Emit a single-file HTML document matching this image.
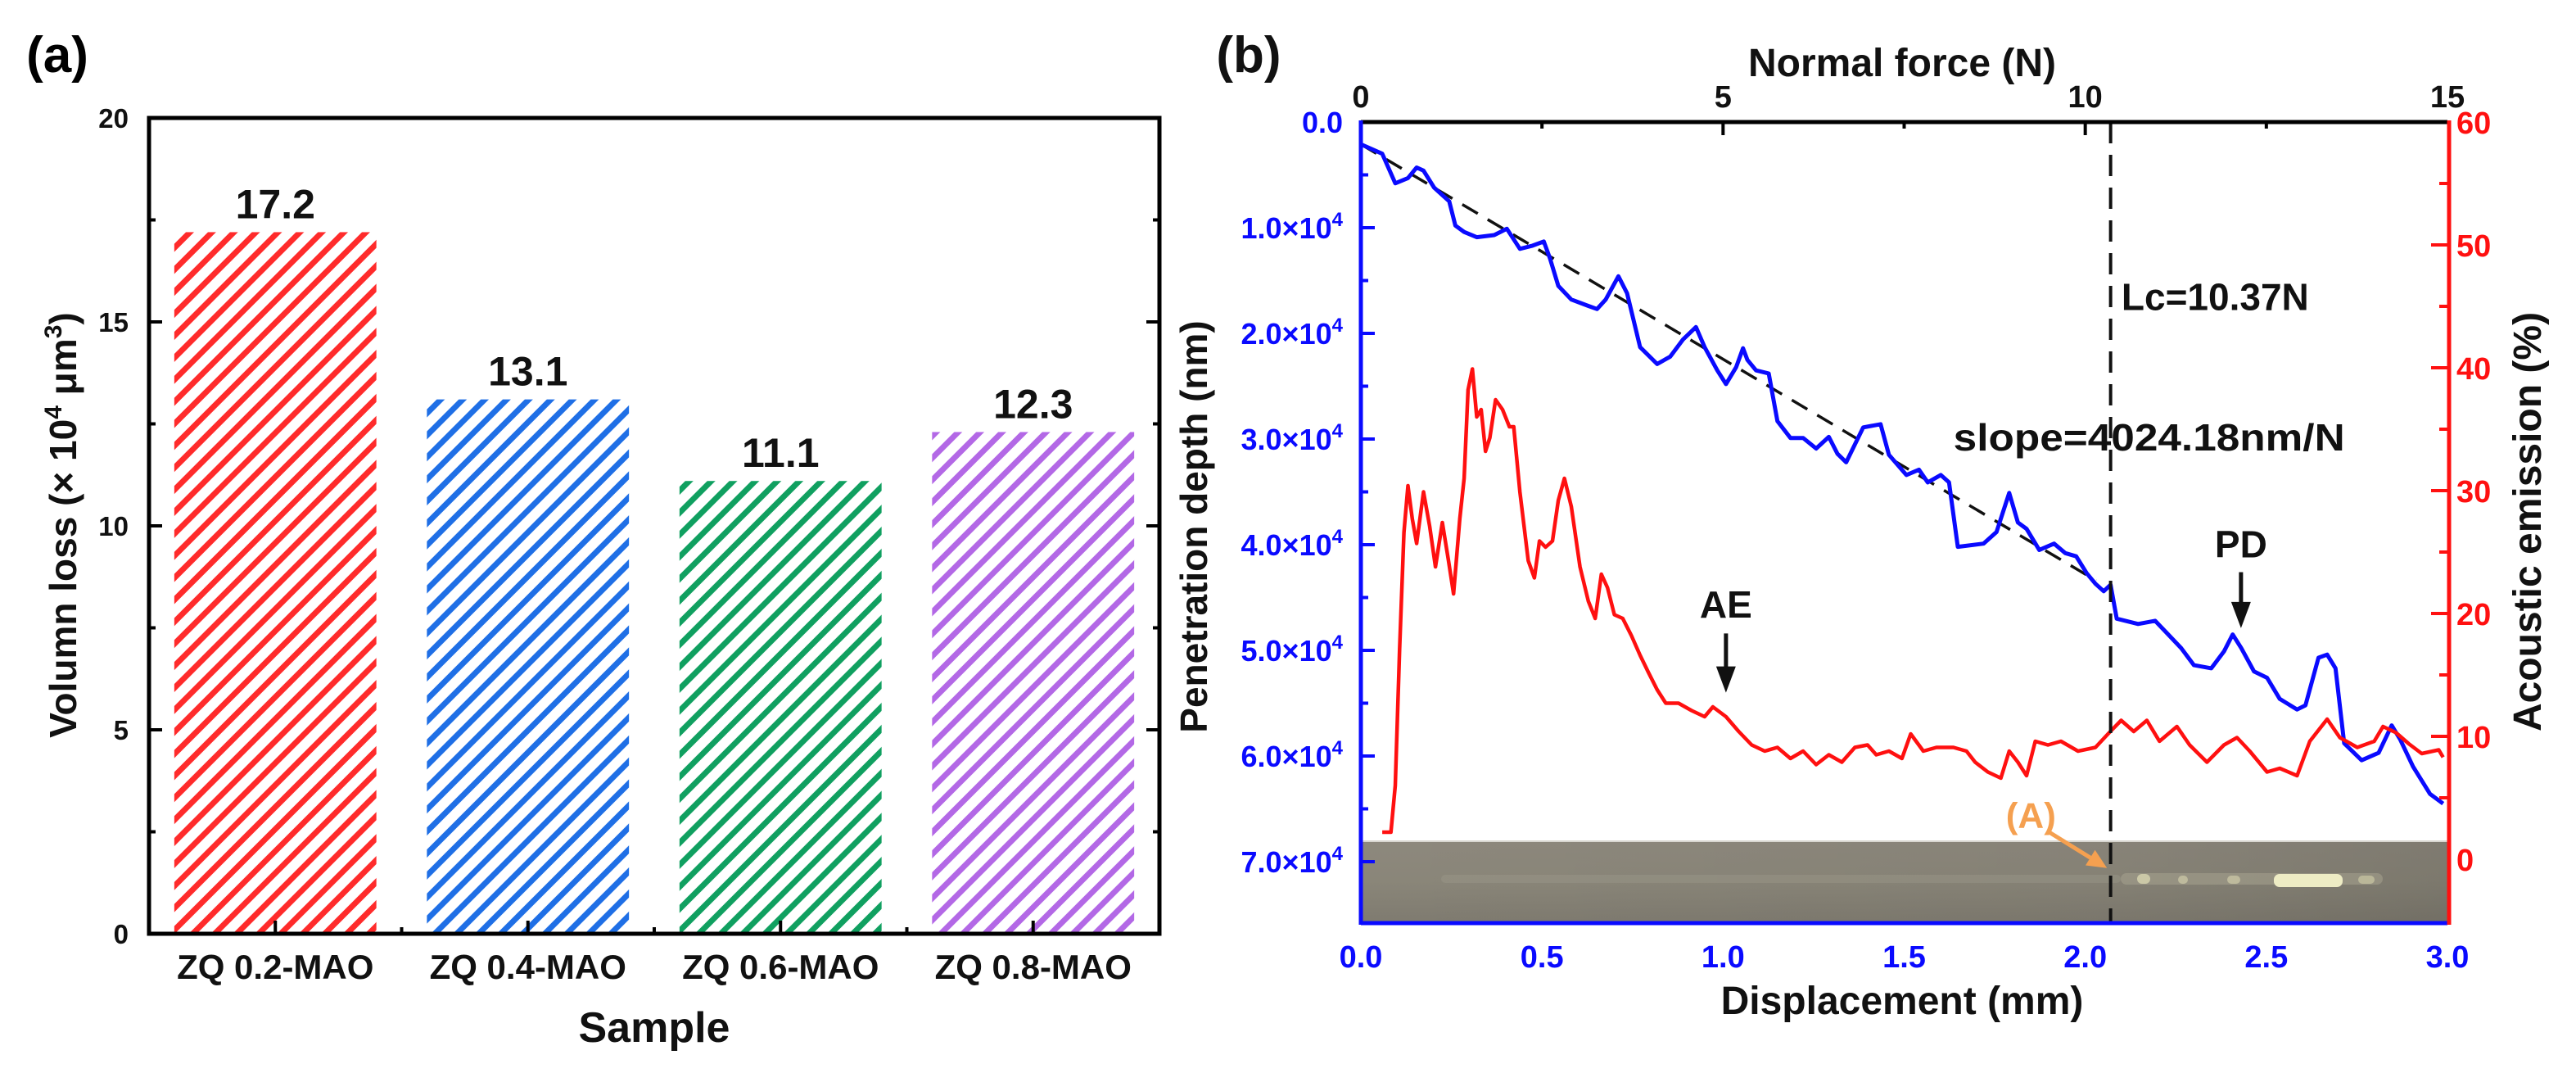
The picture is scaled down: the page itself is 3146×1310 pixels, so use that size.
<!DOCTYPE html>
<html><head><meta charset="utf-8"><style>
html,body{margin:0;padding:0;background:#fff;}
svg{display:block;font-family:"Liberation Sans",Arial,sans-serif;font-weight:bold;}
</style></head><body>
<svg id="fig" width="3146" height="1310" viewBox="0 0 3146 1310" xmlns="http://www.w3.org/2000/svg">
<defs>
<pattern id="hatch-red" patternUnits="userSpaceOnUse" width="19" height="19" patternTransform="rotate(45)"><rect x="0" y="0" width="7" height="19" fill="#ff2b2b"/></pattern>
<pattern id="hatch-blue" patternUnits="userSpaceOnUse" width="19" height="19" patternTransform="rotate(45)"><rect x="0" y="0" width="7" height="19" fill="#1f6fe6"/></pattern>
<pattern id="hatch-green" patternUnits="userSpaceOnUse" width="19" height="19" patternTransform="rotate(45)"><rect x="0" y="0" width="7" height="19" fill="#10a060"/></pattern>
<pattern id="hatch-purple" patternUnits="userSpaceOnUse" width="19" height="19" patternTransform="rotate(45)"><rect x="0" y="0" width="7" height="19" fill="#b368e6"/></pattern>
<linearGradient id="photo-grad" x1="0" y1="0" x2="0" y2="1"><stop offset="0" stop-color="#8d887d"/><stop offset="0.5" stop-color="#8a8679"/><stop offset="1" stop-color="#7f7b70"/></linearGradient>
<linearGradient id="photo-grad-h" x1="0" y1="0" x2="1" y2="0"><stop offset="0" stop-color="#000" stop-opacity="0"/><stop offset="0.7" stop-color="#000" stop-opacity="0.04"/><stop offset="1" stop-color="#000" stop-opacity="0.1"/></linearGradient>
</defs>
<g id="panel-a"></g>
<g id="panel-b"></g>
</svg>
<script>
// ---------- Panel (a) data ----------
const barCategories = ["ZQ 0.2-MAO","ZQ 0.4-MAO","ZQ 0.6-MAO","ZQ 0.8-MAO"];
const barValues = [17.2, 13.1, 11.1, 12.3];
const barLabels = ["17.2","13.1","11.1","12.3"];
const barFills = ["url(#hatch-red)","url(#hatch-blue)","url(#hatch-green)","url(#hatch-purple)"];
const aYTicks = [0,5,10,15,20];

// ---------- Panel (b) data ----------
const blueX = [0,0.059,0.095,0.130,0.154,0.173,0.202,0.244,0.261,0.285,0.320,0.368,0.403,0.439,0.474,0.505,0.522,0.545,0.581,0.628,0.652,0.676,0.711,0.735,0.771,0.818,0.854,0.889,0.925,0.949,0.984,1.008,1.036,1.055,1.067,1.091,1.126,1.150,1.186,1.221,1.257,1.292,1.316,1.340,1.387,1.435,1.458,1.506,1.541,1.565,1.601,1.624,1.648,1.719,1.755,1.790,1.814,1.838,1.873,1.914,1.945,1.975,2.004,2.028,2.051,2.070,2.087,2.146,2.193,2.229,2.265,2.300,2.348,2.383,2.407,2.431,2.466,2.502,2.537,2.585,2.608,2.644,2.668,2.691,2.715,2.763,2.810,2.846,2.869,2.905,2.952,2.988];
const blueDepth = [0.21,0.30,0.58,0.53,0.43,0.46,0.62,0.75,0.98,1.04,1.09,1.07,1.01,1.20,1.17,1.13,1.29,1.55,1.68,1.74,1.77,1.68,1.46,1.62,2.13,2.29,2.22,2.06,1.94,2.13,2.35,2.48,2.32,2.14,2.25,2.35,2.38,2.83,2.99,2.99,3.09,2.98,3.14,3.22,2.89,2.86,3.15,3.34,3.29,3.41,3.34,3.41,4.02,3.99,3.88,3.51,3.79,3.85,4.05,3.99,4.08,4.11,4.27,4.37,4.44,4.38,4.70,4.75,4.72,4.85,4.98,5.14,5.17,5.01,4.85,4.98,5.20,5.26,5.46,5.56,5.52,5.07,5.04,5.17,5.88,6.04,5.97,5.71,5.84,6.10,6.36,6.45];
const redX = [0.059,0.083,0.095,0.107,0.119,0.130,0.142,0.154,0.173,0.190,0.206,0.225,0.242,0.256,0.273,0.285,0.296,0.308,0.320,0.332,0.344,0.356,0.372,0.391,0.410,0.422,0.439,0.462,0.479,0.493,0.510,0.529,0.545,0.562,0.581,0.605,0.628,0.647,0.664,0.681,0.700,0.723,0.747,0.771,0.794,0.818,0.842,0.877,0.913,0.949,0.972,1.008,1.043,1.079,1.115,1.150,1.186,1.221,1.257,1.292,1.328,1.364,1.399,1.423,1.458,1.494,1.518,1.553,1.589,1.636,1.672,1.696,1.731,1.767,1.790,1.814,1.838,1.862,1.897,1.933,1.980,2.028,2.063,2.099,2.134,2.170,2.205,2.253,2.288,2.336,2.383,2.419,2.454,2.502,2.537,2.585,2.620,2.668,2.703,2.751,2.798,2.822,2.858,2.893,2.929,2.976,2.988];
const redAE = [2.2,2.2,6.0,17.1,26.6,30.4,27.7,25.7,29.9,27.1,23.8,27.4,24.3,21.6,27.7,31.0,38.2,39.9,36.0,36.6,33.2,34.3,37.4,36.6,35.2,35.2,29.9,24.3,22.9,25.9,25.4,25.9,29.2,31.0,28.7,23.8,21.0,19.6,23.2,22.1,19.9,19.6,18.2,16.6,15.2,13.8,12.7,12.7,12.1,11.6,12.4,11.6,10.4,9.3,8.8,9.1,8.2,8.8,7.7,8.5,7.9,9.1,9.3,8.5,8.8,8.2,10.2,8.8,9.1,9.1,8.8,7.9,7.1,6.6,8.8,7.9,6.8,9.6,9.3,9.6,8.8,9.1,10.2,11.3,10.4,11.3,9.6,10.8,9.3,7.9,9.3,9.9,8.8,7.1,7.4,6.8,9.6,11.4,9.9,9.1,9.6,10.8,10.3,9.4,8.6,8.9,8.3];
const fitLineX = [0, 2.03];
const fitLineDepth = [0.21, 4.34];
const criticalX = 2.07;
const bottomTicks = [0,0.5,1.0,1.5,2.0,2.5,3.0];
const bottomTickLabels = ["0.0","0.5","1.0","1.5","2.0","2.5","3.0"];
const topTicks = [0,5,10,15];
const leftTicks = [0,1,2,3,4,5,6,7];
const rightTicks = [0,10,20,30,40,50,60];

const NS = "http://www.w3.org/2000/svg";
function mk(parent, tag, attrs, text){
  const e = document.createElementNS(NS, tag);
  for (const k in attrs) e.setAttribute(k, attrs[k]);
  if (text !== undefined) e.textContent = text;
  parent.appendChild(e);
  return e;
}

// ================= Panel A =================
(function(){
  const g = document.getElementById('panel-a');
  const L = 182, R = 1416, T = 144, B = 1140;
  const yMax = 20;
  const ya = v => B - (v / yMax) * (B - T);
  const band = (R - L) / barCategories.length;
  const xc = i => L + band * (i + 0.5);
  const bw = band * 0.8;

  let t = mk(g, 'text', {x:70, y:88, 'font-size':62, 'text-anchor':'middle'}, '(a)');
  
  

  barValues.forEach((v, i) => {
    const r = mk(g, 'rect', {x: xc(i) - bw/2, y: ya(v), width: bw, height: B - ya(v), fill: barFills[i]});
    
    
    const lb = mk(g, 'text', {x: xc(i), y: ya(v) - 17, 'font-size':50, 'text-anchor':'middle', fill:'#111'}, barLabels[i]);
    
    
    const cl = mk(g, 'text', {x: xc(i), y: 1195, 'font-size':42, 'text-anchor':'middle', fill:'#111'}, barCategories[i]);
    
    
    const tk = mk(g, 'line', {x1: xc(i), x2: xc(i), y1: B, y2: B - 16, stroke:'#000', 'stroke-width':4});
    
    
    if (i > 0) {
      const mt = mk(g, 'line', {x1: L + band*i, x2: L + band*i, y1: B, y2: B - 8, stroke:'#000', 'stroke-width':4});
      
      
    }
  });

  aYTicks.forEach((v, i) => {
    const y = ya(v);
    const tl = mk(g, 'text', {x: 157, y: y + 12, 'font-size':33, 'text-anchor':'end', fill:'#111'}, String(v));
    
    
    if (v > 0 && v < yMax) {
      const a = mk(g, 'line', {x1: L, x2: L + 16, y1: y, y2: y, stroke:'#000', 'stroke-width':4});
      
      
      const b = mk(g, 'line', {x1: R, x2: R - 16, y1: y, y2: y, stroke:'#000', 'stroke-width':4});
      
      
    }
    if (i < aYTicks.length - 1) {
      const ym = ya(v + 2.5);
      const c = mk(g, 'line', {x1: L, x2: L + 8, y1: ym, y2: ym, stroke:'#000', 'stroke-width':4});
      
      
      const d = mk(g, 'line', {x1: R, x2: R - 8, y1: ym, y2: ym, stroke:'#000', 'stroke-width':4});
      
      
    }
  });

  const frame = mk(g, 'rect', {x: L, y: T, width: R - L, height: B - T, fill:'none', stroke:'#000', 'stroke-width':5});
  
  

  const xt = mk(g, 'text', {x: 799, y: 1272, 'font-size':52, 'text-anchor':'middle', fill:'#111'}, 'Sample');
  
  

  const yt = mk(g, 'text', {x: 0, y: 0, 'font-size':46, 'text-anchor':'middle', fill:'#111', transform:'translate(93,641) rotate(-90)'});
  
  
  mk(yt, 'tspan', {}, 'Volumn loss (× 10');
  mk(yt, 'tspan', {'font-size':30, dy:-18}, '4');
  mk(yt, 'tspan', {dy:18}, ' μm');
  mk(yt, 'tspan', {'font-size':30, dy:-18}, '3');
  mk(yt, 'tspan', {dy:18}, ')');
})();

// ================= Panel B =================
(function(){
  const g = document.getElementById('panel-b');
  const L = 1662, R = 2989, T = 149, B = 1127;
  const xMax = 3.0;
  const xs = v => L + (v / xMax) * (R - L);
  const yd = v => T + v * 129;
  const yr = v => T + (60 - v) * 15;
  const xf = f => L + (f / 15) * (R - L);
  const BLUE = '#0a0aff', RED = '#ff1010';

  let t = mk(g, 'text', {x: 1525, y: 88, 'font-size':62, 'text-anchor':'middle', fill:'#111'}, '(b)');
  
  

  const ph = mk(g, 'g', {});
  
  
  mk(ph, 'rect', {x: L, y: 1026, width: R - L + 4, height: 99, fill:'url(#photo-grad)'});
  mk(ph, 'rect', {x: L, y: 1026, width: R - L + 4, height: 99, fill:'url(#photo-grad-h)'});
  mk(ph, 'rect', {x: 1760, y: 1068, width: 830, height: 10, rx: 5, fill:'#a09d8f', opacity:0.35});
  mk(ph, 'rect', {x: 2590, y: 1066, width: 320, height: 14, rx: 7, fill:'#a9a692', opacity:0.5});
  mk(ph, 'rect', {x: 2777, y: 1067, width: 84, height: 16, rx: 7, fill:'#eeecc4'});
  mk(ph, 'rect', {x: 2610, y: 1067, width: 16, height: 12, rx: 6, fill:'#d8d6b0', opacity:0.8});
  mk(ph, 'rect', {x: 2660, y: 1069, width: 12, height: 10, rx: 5, fill:'#cfcca8', opacity:0.7});
  mk(ph, 'rect', {x: 2720, y: 1069, width: 16, height: 10, rx: 5, fill:'#cfcca8', opacity:0.7});
  mk(ph, 'rect', {x: 2880, y: 1069, width: 20, height: 10, rx: 5, fill:'#cbc8a4', opacity:0.7});
  mk(ph, 'line', {x1: L, x2: R + 4, y1: 1027, y2: 1027, stroke:'#d8d6d0', 'stroke-width':2});

  const fl = mk(g, 'line', {x1: xs(fitLineX[0]), y1: yd(fitLineDepth[0]), x2: xs(fitLineX[1]), y2: yd(fitLineDepth[1]), stroke:'#111', 'stroke-width':3.5, 'stroke-dasharray':'22 14'});
  
  

  const bp = blueX.map((x, i) => (i ? 'L' : 'M') + xs(x).toFixed(1) + ',' + yd(blueDepth[i]).toFixed(1)).join(' ');
  const blue = mk(g, 'path', {d: bp, fill:'none', stroke: BLUE, 'stroke-width':5, 'stroke-linejoin':'round'});
  
  

  const rp = redX.map((x, i) => (i ? 'L' : 'M') + xs(x).toFixed(1) + ',' + yr(redAE[i]).toFixed(1)).join(' ');
  const red = mk(g, 'path', {d: rp, fill:'none', stroke: RED, 'stroke-width':4.5, 'stroke-linejoin':'round'});
  
  

  const vl = mk(g, 'line', {x1: xs(criticalX), x2: xs(criticalX), y1: T, y2: B, stroke:'#111', 'stroke-width':4, 'stroke-dasharray':'26 14'});
  
  

  const top = mk(g, 'line', {x1: L, x2: R, y1: T, y2: T, stroke:'#000', 'stroke-width':5});
  
  
  const left = mk(g, 'line', {x1: L, x2: L, y1: T - 2, y2: B + 2, stroke: BLUE, 'stroke-width':5});
  
  
  const bot = mk(g, 'line', {x1: L, x2: R, y1: B, y2: B, stroke: BLUE, 'stroke-width':5});
  
  
  const right = mk(g, 'line', {x1: R + 2, x2: R + 2, y1: T - 2, y2: B + 2, stroke: RED, 'stroke-width':5});
  
  

  topTicks.forEach((f, i) => {
    const x = xf(f);
    const lb = mk(g, 'text', {x: x, y: 131, 'font-size':38, 'text-anchor':'middle', fill:'#111'}, String(f));
    
    
    if (f > 0 && f < 15) {
      const tk = mk(g, 'line', {x1: x, x2: x, y1: T, y2: T + 16, stroke:'#000', 'stroke-width':4});
      
      
    }
    if (i < topTicks.length - 1) {
      const xm = xf(f + 2.5);
      const mt = mk(g, 'line', {x1: xm, x2: xm, y1: T, y2: T + 8, stroke:'#000', 'stroke-width':4});
      
      
    }
  });

  bottomTicks.forEach((v, i) => {
    const lb = mk(g, 'text', {x: xs(v), y: 1181, 'font-size':38, 'text-anchor':'middle', fill: BLUE}, bottomTickLabels[i]);
    
    
  });

  leftTicks.forEach((v, i) => {
    const y = yd(v);
    const lb = mk(g, 'text', {x: 1640, y: y + 13, 'font-size':36, 'text-anchor':'end', fill: BLUE});
    
    
    if (v === 0) { lb.textContent = '0.0'; }
    else {
      mk(lb, 'tspan', {}, v.toFixed(1) + '×10');
      mk(lb, 'tspan', {'font-size':24, dy:-15}, '4');
    }
    if (v > 0) {
      const tk = mk(g, 'line', {x1: L, x2: L + 17, y1: y, y2: y, stroke: BLUE, 'stroke-width':4});
      
      
    }
    const ym = yd(v + 0.5);
    if (ym < 1026) {
      const mt = mk(g, 'line', {x1: L, x2: L + 9, y1: ym, y2: ym, stroke: BLUE, 'stroke-width':4});
      
      
    }
  });

  rightTicks.forEach((v, i) => {
    const y = yr(v);
    const lb = mk(g, 'text', {x: 3000, y: y + 14, 'font-size':38, 'text-anchor':'start', fill: RED}, String(v));
    
    
    if (v > 0 && v < 60) {
      const tk = mk(g, 'line', {x1: R, x2: R - 20, y1: y, y2: y, stroke: RED, 'stroke-width':4});
      
      
    }
    if (v < 60) {
      const ym = yr(v + 5);
      const mt = mk(g, 'line', {x1: R, x2: R - 10, y1: ym, y2: ym, stroke: RED, 'stroke-width':4});
      
      
    }
  });

  let a = mk(g, 'text', {x: 2323, y: 93, 'font-size':48, 'text-anchor':'middle', fill:'#111'}, 'Normal force (N)');
  
  
  a = mk(g, 'text', {x: 2323, y: 1238, 'font-size':48, 'text-anchor':'middle', fill:'#111'}, 'Displacement (mm)');
  
  
  a = mk(g, 'text', {x: 0, y: 0, 'font-size':46, 'text-anchor':'middle', fill:'#111', transform:'translate(1474,643) rotate(-90)'}, 'Penetration depth (nm)');
  
  
  a = mk(g, 'text', {x: 0, y: 0, 'font-size':48, 'text-anchor':'middle', fill:'#111', transform:'translate(3103,637) rotate(-90)'}, 'Acoustic emission (%)');
  
  

  a = mk(g, 'text', {x: xs(2.10), y: yd(1.78), 'font-size':46, fill:'#111'}, 'Lc=10.37N');
  
  
  a = mk(g, 'text', {x: xs(1.636), y: yd(3.11), 'font-size':46, fill:'#111', textLength: 478, lengthAdjust:'spacingAndGlyphs'}, 'slope=4024.18nm/N');
  
  

  function arrow(name, x, y1, y2, label, ly){
    const gg = mk(g, 'g', {});
    
    
    mk(gg, 'line', {x1: x, x2: x, y1: y1, y2: y2 - 28, stroke:'#111', 'stroke-width':5});
    mk(gg, 'polygon', {points: (x-12)+','+(y2-32)+' '+(x+12)+','+(y2-32)+' '+x+','+y2, fill:'#111'});
    mk(gg, 'text', {x: x, y: ly, 'font-size':46, 'text-anchor':'middle', fill:'#111'}, label);
  }
  arrow('pd-arrow', xs(2.43), yd(4.26), yd(4.79), 'PD', yd(4.12));
  arrow('ae-arrow', xs(1.008), yd(4.84), yd(5.40), 'AE', yd(4.69));

  const ga = mk(g, 'g', {});
  
  
  mk(ga, 'text', {x: xs(1.85), y: yd(6.68), 'font-size':44, 'text-anchor':'middle', fill:'#f5a050'}, '(A)');
  const ax1 = xs(1.90), ay1 = yd(6.72), ax2 = xs(2.06), ay2 = yd(7.06);
  const ang = Math.atan2(ay2 - ay1, ax2 - ax1);
  const hx = ax2 - 24*Math.cos(ang), hy = ay2 - 24*Math.sin(ang);
  mk(ga, 'line', {x1: ax1, y1: ay1, x2: hx, y2: hy, stroke:'#f5a050', 'stroke-width':5});
  const px = -Math.sin(ang)*11, py = Math.cos(ang)*11;
  mk(ga, 'polygon', {points: (hx+px)+','+(hy+py)+' '+(hx-px)+','+(hy-py)+' '+ax2+','+ay2, fill:'#f5a050'});
})();
</script>
</body></html>
